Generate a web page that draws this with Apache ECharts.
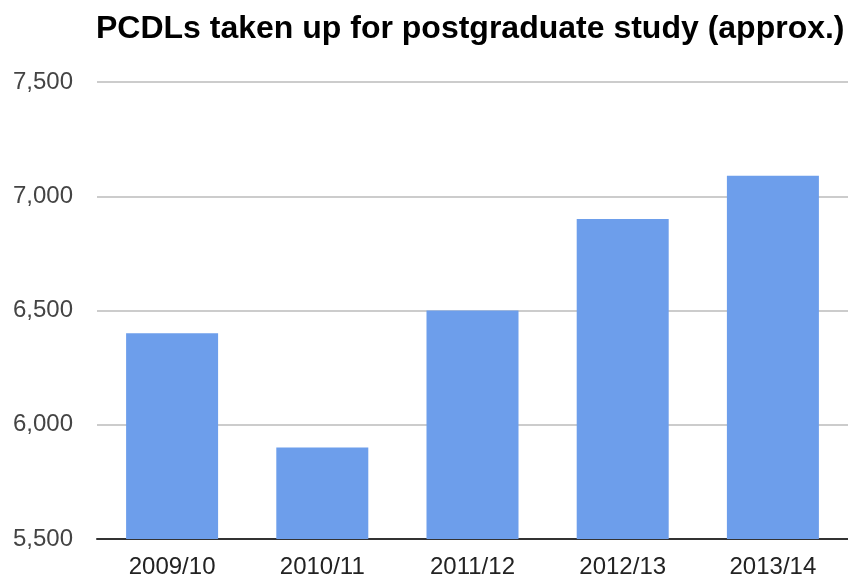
<!DOCTYPE html>
<html>
<head>
<meta charset="utf-8">
<script src="https://cdn.jsdelivr.net/npm/echarts@6/dist/echarts.min.js"></script>
<style>
  html, body { margin: 0; padding: 0; background: #fff; }
  #chart { width: 848px; height: 579px; }
</style>
</head>
<body>
<div id="chart"></div>
<script>
// academic years on the x axis
const years = ['2009/10', '2010/11', '2011/12', '2012/13', '2013/14'];
// number of PCDLs taken up (approx.)
const loans = [6400, 5900, 6500, 6900, 7090];
// y axis range
const yMin = 5500;
const yMax = 7500;
const yStep = 500;

const chart = echarts.init(document.getElementById('chart'));

const option = {
  animation: false,
  title: {
    text: 'PCDLs taken up for postgraduate study (approx.)',
    left: 96,
    top: 13,
    padding: 0,
    textStyle: {
      fontFamily: 'Liberation Sans',
      fontWeight: 'bold',
      fontSize: 32,
      color: '#000'
    }
  },
  grid: {
    left: 97,
    right: 0,
    top: 82,
    bottom: 39
  },
  xAxis: {
    type: 'category',
    data: years,
    axisLine: { lineStyle: { color: '#333', width: 2 } },
    axisTick: { show: false },
    axisLabel: {
      margin: 16,
      fontFamily: 'Liberation Sans',
      fontSize: 24,
      color: '#222'
    }
  },
  yAxis: {
    type: 'value',
    min: yMin,
    max: yMax,
    interval: yStep,
    axisLine: { show: false },
    axisTick: { show: false },
    splitLine: { lineStyle: { color: '#ccc', width: 2 } },
    axisLabel: {
      margin: 24,
      fontFamily: 'Liberation Sans',
      fontSize: 24,
      color: '#444',
      formatter: v => v.toLocaleString('en-US')
    }
  },
  series: [
    {
      type: 'bar',
      data: loans,
      barWidth: 92,
      itemStyle: { color: '#6d9eeb' }
    }
  ]
};

chart.setOption(option);
</script>
</body>
</html>
